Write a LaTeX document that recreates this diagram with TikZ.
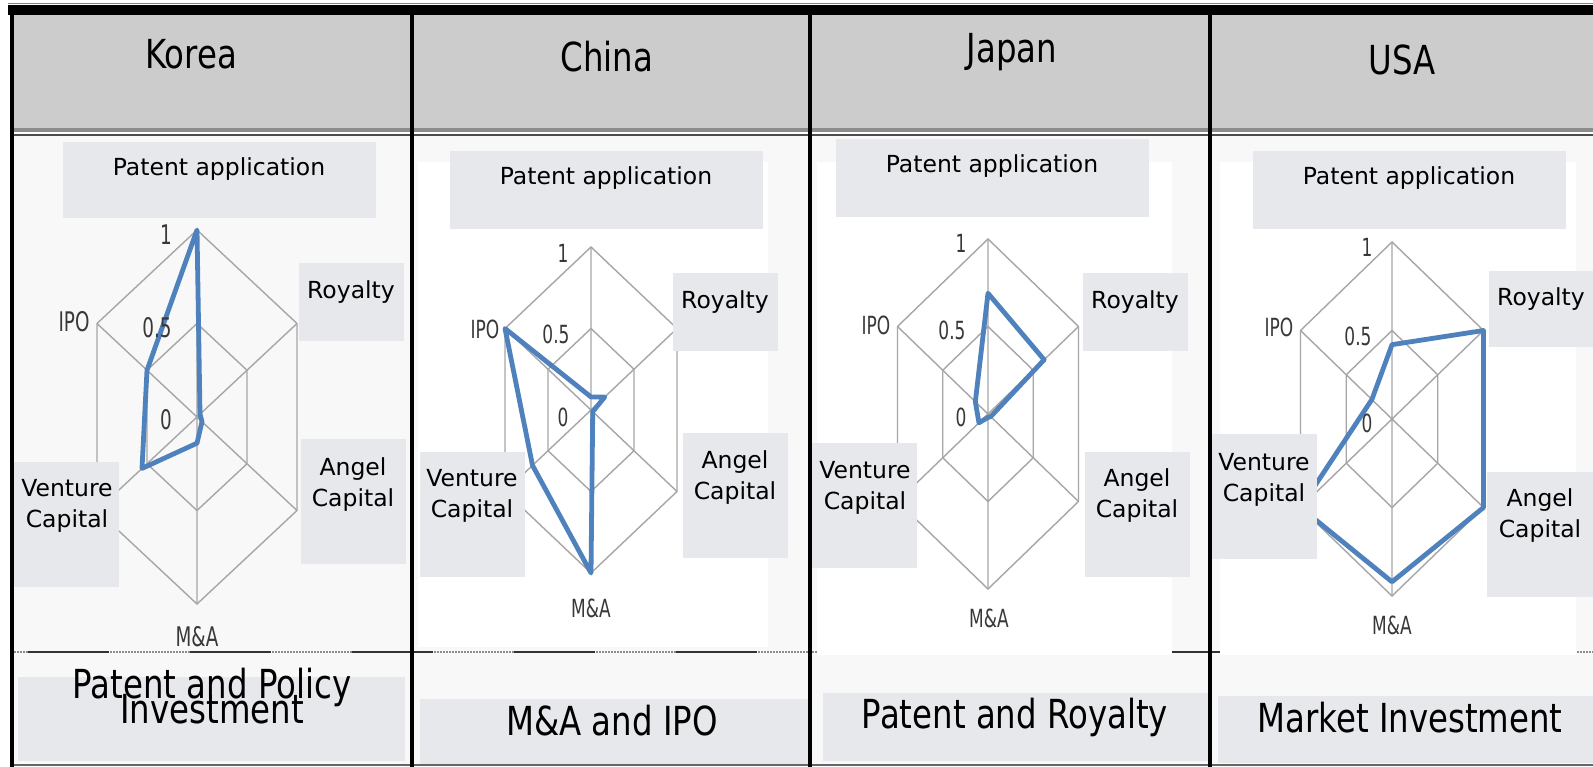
\documentclass[tikz,border=0pt]{standalone}
\usepackage{fontspec}
\setmainfont{DejaVu Sans}
\newfontfamily\hdfont{DejaVu Sans}[FakeStretch=0.81]
\newfontfamily\axfont{DejaVu Sans}[FakeStretch=0.68]
\definecolor{hdgray}{HTML}{CCCCCC}
\definecolor{panelbg}{HTML}{F8F8F8}
\definecolor{boxgray}{HTML}{E6E8EB}
\definecolor{gridcol}{HTML}{A6A6A6}
\definecolor{axcol}{HTML}{383838}
\definecolor{blueline}{HTML}{4F81BD}
\tikzset{
  lbox/.style={fill=boxgray, draw=none},
  lbl/.style={font=\fontsize{23.5}{31}\selectfont, align=center, inner sep=0pt},
  hd/.style={font=\hdfont\fontsize{40}{40}\selectfont, anchor=base, inner sep=0pt},
  ax/.style={font=\axfont\fontsize{27}{27}\selectfont, text=axcol, inner sep=0pt},
  axs/.style={font=\axfont\fontsize{25}{25}\selectfont, text=axcol, inner sep=0pt},
  gridline/.style={draw=gridcol, line width=1.4pt},
  dataline/.style={draw=blueline, line width=4.8pt, line join=round},
  divider/.style={draw=black, line width=4pt}
}
\newcommand\hexgrid{%
  \draw[gridline] (0,-1)--(1,-0.5)--(1,0.5)--(0,1)--(-1,0.5)--(-1,-0.5)--cycle;
  \draw[gridline] (0,-0.5)--(0.5,-0.25)--(0.5,0.25)--(0,0.5)--(-0.5,0.25)--(-0.5,-0.25)--cycle;
  \draw[gridline] (0,-1)--(0,1) (-1,-0.5)--(1,0.5) (1,-0.5)--(-1,0.5);}
\newcommand\datapoly[6]{%
  \draw[dataline] (0,{-#1}) -- ({#2},{-0.5*#2}) -- ({#3},{0.5*#3}) -- (0,{#4})
    -- ({-#5},{0.5*#5}) -- ({-#6},{-0.5*#6}) -- cycle;}
\begin{document}
\begin{tikzpicture}[x=1pt,y=-1pt]
\useasboundingbox (0,0) rectangle (1593,767);
\fill[white] (0,0) rectangle (1593,767);
% panel backgrounds
\fill[panelbg] (11,136) rectangle (1593,765);
% header
\fill[hdgray] (11,15) rectangle (1593,128);
\draw[gray, line width=1pt] (8,4) -- (1593,4);
\fill[black] (8,5) rectangle (1593,15);
\fill[black!45] (11,128) rectangle (1593,132.5);
\draw[black!70, line width=2pt] (11,135.5) -- (1593,135.5);
% dashed separator
\draw[black!45, line width=1.2pt, dash pattern=on 1.5pt off 1.5pt] (11,652) -- (1593,652);
\draw[black!80, line width=2pt, dash pattern=on 81pt off 81pt, dash phase=-17pt] (11,652) -- (1593,652);
% white chart areas
\fill[white] (418,162) rectangle (768,647);
\fill[white] (817,162) rectangle (1172,655);
\fill[white] (1220,162) rectangle (1576,655);
\draw[black!60, line width=1.5pt] (11,765) -- (1593,765);

% ---------- Korea ----------
\begin{scope}[shift={(197,417)}, x=100pt, y=-187pt]
  \hexgrid
  \datapoly{1}{0.03}{0.05}{0.14}{0.55}{0.5}
\end{scope}
\fill[lbox] (63,142) rectangle (376,218);
\fill[lbox] (299,263) rectangle (404,341);
\fill[lbox] (301,439) rectangle (406,564);
\fill[lbox] (14,462) rectangle (119,587);
\node[lbl] (kpa) at (219,169) {Patent application};
\node[lbl] (kro) at (351,292) {Royalty};
\node[lbl] (kan) at (353,485) {Angel\\Capital};
\node[lbl] (kvc) at (67,506) {Venture\\Capital};
\node[ax] (k1) at (166,235) {1};
\node[ax] (k05) at (157,328) {0.5};
\node[ax] (k0) at (166,420) {0};
\node[ax] (kipo) at (74,322) {IPO};
\node[ax] (kma) at (197,637) {M\&A};

% ---------- China ----------
\begin{scope}[shift={(591,410)}, x=86pt, y=-163pt]
  \hexgrid
  \datapoly{0.08}{0.16}{0.02}{1}{0.68}{1}
\end{scope}
\fill[lbox] (450,151) rectangle (763,229);
\fill[lbox] (673,273) rectangle (778,351);
\fill[lbox] (683,433) rectangle (788,558);
\fill[lbox] (420,452) rectangle (525,577);
\node[lbl] (cpa) at (606,178) {Patent application};
\node[lbl] (cro) at (725,302) {Royalty};
\node[lbl] (can) at (735,478) {Angel\\Capital};
\node[lbl] (cvc) at (472,496) {Venture\\Capital};
\node[axs] (c1) at (563,253) {1};
\node[axs] (c05) at (556,334) {0.5};
\node[axs] (c0) at (563,417) {0};
\node[axs] (cipo) at (485,329) {IPO};
\node[axs] (cma) at (591,608) {M\&A};

% ---------- Japan ----------
\begin{scope}[shift={(988,414)}, x=90.5pt, y=-175pt]
  \hexgrid
  \datapoly{0.69}{0.62}{0.03}{0.02}{0.1}{0.14}
\end{scope}
\fill[lbox] (836,139) rectangle (1149,217);
\fill[lbox] (1083,273) rectangle (1188,351);
\fill[lbox] (1085,452) rectangle (1190,577);
\fill[lbox] (812,443) rectangle (917,568);
\node[lbl] (jpa) at (992,166) {Patent application};
\node[lbl] (jro) at (1135,302) {Royalty};
\node[lbl] (jan) at (1137,496) {Angel\\Capital};
\node[lbl] (jvc) at (865,488) {Venture\\Capital};
\node[axs] (j1) at (961,243) {1};
\node[axs] (j05) at (952,330) {0.5};
\node[axs] (j0) at (961,417) {0};
\node[axs] (jipo) at (876,325) {IPO};
\node[axs] (jma) at (989,618) {M\&A};

% ---------- USA ----------
\begin{scope}[shift={(1392,419)}, x=91.5pt, y=-177pt]
  \hexgrid
  \datapoly{0.42}{1}{1}{0.92}{1}{0.22}
\end{scope}
\fill[lbox] (1253,151) rectangle (1566,229);
\fill[lbox] (1489,271) rectangle (1593,347);
\fill[lbox] (1487,472) rectangle (1593,597);
\fill[lbox] (1212,434) rectangle (1317,559);
\node[lbl] (upa) at (1409,178) {Patent application};
\node[lbl] (uro) at (1541,299) {Royalty};
\node[lbl] (uan) at (1540,516) {Angel\\Capital};
\node[lbl] (uvc) at (1264,480) {Venture\\Capital};
\node[axs] (u1) at (1367,247) {1};
\node[axs] (u05) at (1358,336) {0.5};
\node[axs] (u0) at (1367,423) {0};
\node[axs] (uipo) at (1279,327) {IPO};
\node[axs] (uma) at (1392,625) {M\&A};

% ---------- headers ----------
\node[hd] (hk) at (191,69) {Korea};
\node[hd] (hc) at (607,72) {China};
\node[hd] (hj) at (1012,63) {Japan};
\node[hd] (hu) at (1402,75) {USA};

% ---------- bottom labels ----------
\fill[lbox] (18,677) rectangle (405,761);
\fill[lbox] (420,699) rectangle (808,764);
\fill[lbox] (823,693) rectangle (1209,761);
\fill[lbox] (1218,696) rectangle (1593,763);
\node[hd] (fk1) at (212,698) {Patent and Policy};
\node[hd] (fk2) at (212,723) {Investment};
\node[hd] (fc) at (612,735) {M\&A and IPO};
\node[hd] (fj) at (1015,728) {Patent and Royalty};
\node[hd] (fu) at (1410,732) {Market Investment};

% ---------- dividers ----------
\draw[divider] (11.5,5) -- (11.5,767);
\draw[divider] (411.5,5) -- (411.5,767);
\draw[divider] (810,5) -- (810,767);
\draw[divider] (1210,5) -- (1210,767);
\end{tikzpicture}
\end{document}
